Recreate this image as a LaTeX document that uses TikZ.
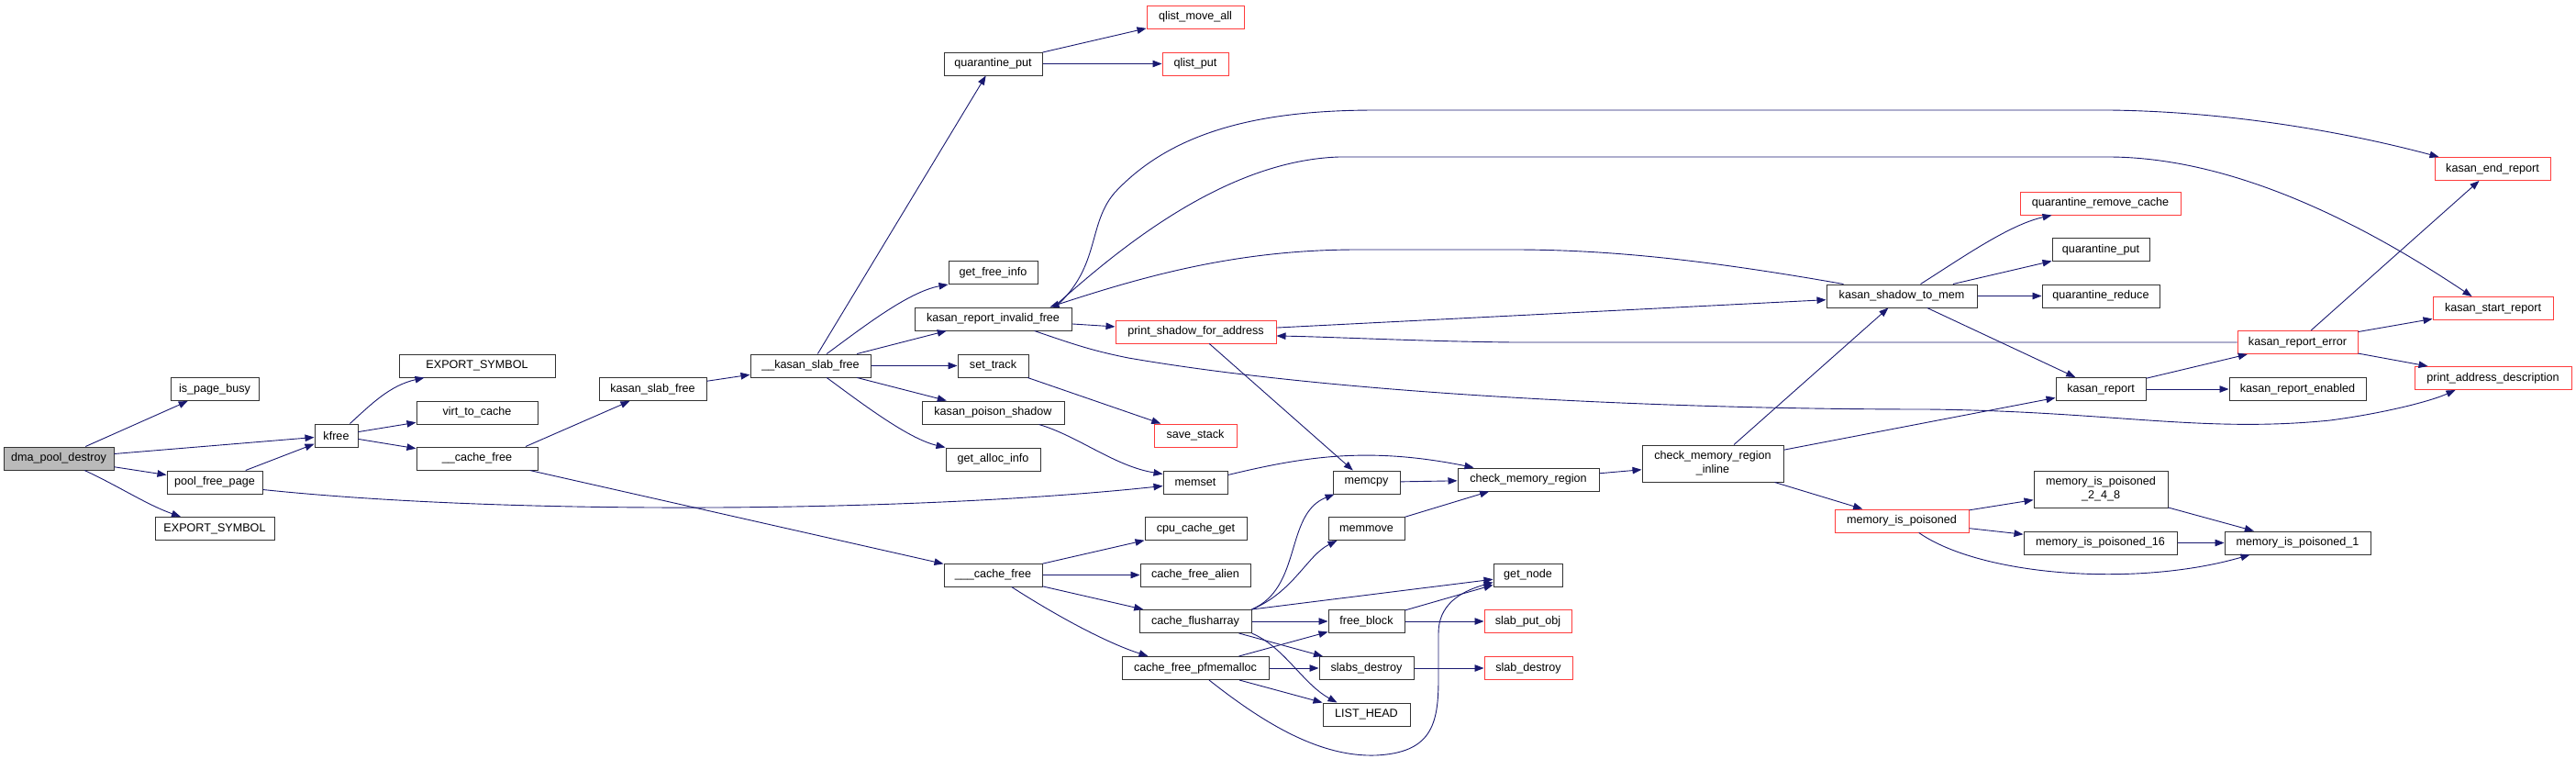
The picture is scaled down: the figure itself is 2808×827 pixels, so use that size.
\documentclass[tikz,border=0pt]{standalone}
\usepackage{fontspec}
\setmainfont{Liberation Sans}
\usetikzlibrary{arrows.meta,calc}
\definecolor{callblue}{HTML}{191970}
\definecolor{cutred}{HTML}{FF3C3C}

\begin{document}
\begin{tikzpicture}[x=1pt,y=-1pt,
    fn/.style={draw=black!80, fill=white, line width=1pt, inner sep=0pt,
      minimum height=25pt, align=center, font=\fontsize{12.6}{15}\selectfont},
    fnred/.style={fn, draw=cutred},
    fnroot/.style={fn, fill=black!27},
    call/.style={callblue, line width=0.9pt, -{Triangle[length=10pt,width=7.5pt]}}]
        \useasboundingbox (0,0) rectangle (2808,827);
        % left part
        \node[fnroot, minimum width=120] (dmadestroy) at (64,499.5) {dma\_pool\_destroy};
        \node[fn, minimum width=96] (pagebusy) at (234,424) {is\_page\_busy};
        \node[fn, minimum width=104] (poolfree) at (234,525.5) {pool\_free\_page};
        \node[fn, minimum width=130] (expsym) at (234,576) {EXPORT\_SYMBOL};
        \node[fn, minimum width=47] (kfree) at (366.5,474.5) {kfree};
        \node[fn, minimum width=170] (expsymk) at (520,398.5) {EXPORT\_SYMBOL};
        \node[fn, minimum width=132] (virtcache) at (520,449.5) {virt\_to\_cache};
        \node[fn, minimum width=132] (cachefree) at (520,499.5) {\_\_cache\_free};
        \node[fn, minimum width=117] (kslabfree) at (711.5,424) {kasan\_slab\_free};
        \node[fn, minimum width=131] (kslabfreeu) at (883.5,398.5) {\_\_kasan\_slab\_free};
        % kasan column
        \node[fn, minimum width=107] (qput) at (1082.5,69.5) {quarantine\_put};
        \node[fn, minimum width=97] (freeinfo) at (1082.5,297) {get\_free\_info};
        \node[fn, minimum width=171] (invfree) at (1082.5,347.5) {kasan\_report\_invalid\_free};
        \node[fn, minimum width=77] (settrack) at (1082.5,398.5) {set\_track};
        \node[fn, minimum width=155] (poison) at (1082.5,449.5) {kasan\_poison\_shadow};
        \node[fn, minimum width=103] (allocinfo) at (1082.5,500.5) {get\_alloc\_info};
        \node[fn, minimum width=107] (cachefreeu) at (1082.5,626.5) {\_\_\_cache\_free};
        \node[fnred, minimum width=106] (qmoveall) at (1303,18.5) {qlist\_move\_all};
        \node[fnred, minimum width=72] (qlistput) at (1303,69.5) {qlist\_put};
        \node[fnred, minimum width=175] (pshadow) at (1303.5,361.5) {print\_shadow\_for\_address};
        \node[fnred, minimum width=90] (savestack) at (1303,474.5) {save\_stack};
        \node[fn, minimum width=70] (memset) at (1303,525.5) {memset};
        \node[fn, minimum width=111] (cpuget) at (1303.5,576) {cpu\_cache\_get};
        \node[fn, minimum width=120] (alien) at (1303,626.5) {cache\_free\_alien};
        \node[fn, minimum width=122] (flush) at (1303,677) {cache\_flusharray};
        \node[fn, minimum width=160] (pfmem) at (1303,728) {cache\_free\_pfmemalloc};
        \node[fn, minimum width=73] (memcpy) at (1489.5,525.5) {memcpy};
        \node[fn, minimum width=83] (memmove) at (1489.5,576) {memmove};
        \node[fn, minimum width=83] (freeblock) at (1489.5,677) {free\_block};
        \node[fn, minimum width=103] (slabsdestroy) at (1489.5,728) {slabs\_destroy};
        \node[fn, minimum width=95] (listhead) at (1489.5,778.5) {LIST\_HEAD};
        \node[fn, minimum width=154] (checkmem) at (1666,522.5) {check\_memory\_region};
        \node[fn, minimum width=75] (getnode) at (1665.5,626.5) {get\_node};
        \node[fnred, minimum width=95] (putobj) at (1665.5,677) {slab\_put\_obj};
        \node[fnred, minimum width=96] (slabdestroy) at (1666,728) {slab\_destroy};
        \node[fn, minimum width=154, minimum height=40] (checkinl) at (1867,505) {check\_memory\_region\\\_inline};
        % right part
        \node[fn, minimum width=164] (shadowmem) at (2073,322.5) {kasan\_shadow\_to\_mem};
        \node[fnred, minimum width=146] (poisoned) at (2073,567.5) {memory\_is\_poisoned};
        \node[fnred, minimum width=175] (qremove) at (2289.5,221.5) {quarantine\_remove\_cache};
        \node[fn, minimum width=106] (qputb) at (2290,272) {quarantine\_put};
        \node[fn, minimum width=128] (qreduce) at (2290,322.5) {quarantine\_reduce};
        \node[fn, minimum width=98] (kreport) at (2290,424) {kasan\_report};
        \node[fn, minimum width=146, minimum height=40] (poisonedb) at (2290,533) {memory\_is\_poisoned\\\_2\_4\_8};
        \node[fn, minimum width=167] (poisonedc) at (2289.5,591.5) {memory\_is\_poisoned\_16};
        \node[fnred, minimum width=131] (kerror) at (2504.5,373) {kasan\_report\_error};
        \node[fn, minimum width=149] (kenabled) at (2504.5,424) {kasan\_report\_enabled};
        \node[fn, minimum width=159] (poisonedd) at (2504.5,591.5) {memory\_is\_poisoned\_1};
        \node[fnred, minimum width=126] (kend) at (2717,184) {kasan\_end\_report};
        \node[fnred, minimum width=131] (kstart) at (2717.5,336) {kasan\_start\_report};
        \node[fnred, minimum width=171] (paddr) at (2717.5,412) {print\_address\_description};
        % calls
        \draw[call] (dmadestroy) -- (pagebusy);
        \draw[call] (dmadestroy) -- (kfree);
        \draw[call] (dmadestroy) -- (poolfree);
        \draw[call] (dmadestroy) .. controls (130,530) and (160,550) .. (expsym);
        \draw[call] (poolfree) -- (kfree);
        \draw[call] ($(poolfree.east)+(0,8)$) .. controls (560,562) and (1000,558) .. ($(memset.west)+(0,4)$);
        \draw[call] ($(kfree.north)+(15,0)$) .. controls (405,440) and (425,420) .. ($(expsymk.south west)+(28,0)$);
        \draw[call] (kfree) -- (virtcache);
        \draw[call] (kfree) -- (cachefree);
        \draw[call] ($(cachefree.north)+(53,0)$) -- ($(kslabfree.south)+(-25,0)$);
        \draw[call] (cachefree) -- (cachefreeu);
        \draw[call] (kslabfree) -- (kslabfreeu);
        \draw[call] (kslabfreeu) -- (qput);
        \draw[call] (kslabfreeu) .. controls (940,357) and (990,318) .. (freeinfo.south west);
        \draw[call] (kslabfreeu) -- (invfree);
        \draw[call] (kslabfreeu) -- (settrack);
        \draw[call] (kslabfreeu) -- (poison);
        \draw[call] (kslabfreeu) .. controls (940,440) and (990,478) .. (allocinfo.north west);
        \draw[call] (qput) -- (qmoveall);
        \draw[call] (qput) -- (qlistput);
        \draw[call] (invfree) -- (pshadow);
        \draw[call] ($(invfree.north east)+(-18,0)$) .. controls (1200,290) and (1185,245) .. (1215,210)
            .. controls (1280,140) and (1380,120) .. (1500,120) -- (2300,120)
            .. controls (2450,122) and (2580,150) .. ($(kend.north west)+(5,0)$);
        \draw[call] ($(invfree.north east)+(-20,0)$) .. controls (1210,280) and (1330,175) .. (1460,171)
            -- (2300,171) .. controls (2450,172) and (2600,260) .. ($(kstart.north west)+(43,0)$);
        \draw[call] ($(invfree.south)+(45,0)$) .. controls (1170,375) and (1190,382) .. (1230,390)
            .. controls (1450,428) and (1800,446) .. (2100,446)
            .. controls (2300,448) and (2400,472) .. (2540,458)
            .. controls (2600,450) and (2650,437) .. ($(paddr.south west)+(45,0)$);
        \draw[call] ($(shadowmem.north west)+(19,0)$) .. controls (1870,285) and (1760,272) .. (1650,272)
            -- (1480,272) .. controls (1350,272) and (1250,300) .. ($(invfree.north east)+(-24,0)$);
        \draw[call] (pshadow) -- (shadowmem);
        \draw[call] (kerror.west) -- (1650,373) .. controls (1550,372) and (1450,367) .. ($(pshadow.east)+(0,4.5)$);
        \draw[call] (pshadow) -- (memcpy);
        \draw[call] (settrack) -- (savestack);
        \draw[call] ($(poison.south)+(50,0)$) .. controls (1175,475) and (1215,508) .. ($(memset.west)+(0,-9)$);
        \draw[call] ($(memset.east)+(0,-8)$) .. controls (1420,498) and (1490,486) .. ($(checkmem.north west)+(18,0)$);
        \draw[call] (memcpy) -- (checkmem);
        \draw[call] (memmove) -- (checkmem);
        \draw[call] (checkmem) -- (checkinl);
        \draw[call] (checkinl) -- (shadowmem);
        \draw[call] (checkinl) -- (kreport);
        \draw[call] (checkinl) -- (poisoned);
        \draw[call] (shadowmem) .. controls (2140,280) and (2190,245) .. ($(qremove.south west)+(35,0)$);
        \draw[call] (shadowmem) -- (qputb);
        \draw[call] (shadowmem) -- (qreduce);
        \draw[call] (shadowmem) -- (kreport);
        \draw[call] (kreport) -- (kerror);
        \draw[call] (kreport) -- (kenabled);
        \draw[call] (kerror) -- (kend);
        \draw[call] (kerror) -- (kstart);
        \draw[call] (kerror) -- (paddr);
        \draw[call] (poisoned) -- (poisonedb);
        \draw[call] (poisoned) -- (poisonedc);
        \draw[call] (poisoned) .. controls (2160,628) and (2330,640) .. ($(poisonedd.south west)+(28,0)$);
        \draw[call] (poisonedb) -- (poisonedd);
        \draw[call] (poisonedc) -- (poisonedd);
        \draw[call] (cachefreeu) -- (cpuget);
        \draw[call] (cachefreeu) -- (alien);
        \draw[call] (cachefreeu) -- (flush);
        \draw[call] (cachefreeu) .. controls (1150,670) and (1205,700) .. ($(pfmem.north west)+(29,0)$);
        \draw[call] (flush.north east) .. controls (1420,640) and (1400,560) .. ($(memcpy.south west)+(2,0)$);
        \draw[call] (flush.north east) .. controls (1410,645) and (1425,605) .. ($(memmove.south west)+(10,0)$);
        \draw[call] (flush.north east) -- (getnode);
        \draw[call] (flush) -- (freeblock);
        \draw[call] (flush) -- (slabsdestroy);
        \draw[call] (flush.south east) .. controls (1400,705) and (1420,745) .. ($(listhead.north west)+(16,0)$);
        \draw[call] (pfmem) -- (freeblock);
        \draw[call] (pfmem) -- (slabsdestroy);
        \draw[call] (pfmem) -- (listhead);
        \draw[call] ($(pfmem.south)+(15,0)$) .. controls (1380,790) and (1440,825) .. (1500,823)
            .. controls (1560,820) and (1568,790) .. (1568,740) -- (1568,690)
            .. controls (1568,660) and (1590,645) .. ($(getnode.west)+(0,8)$);
        \draw[call] (freeblock) -- (getnode);
        \draw[call] (freeblock) -- (putobj);
        \draw[call] (slabsdestroy) -- (slabdestroy);
    \end{tikzpicture}
\end{document}
